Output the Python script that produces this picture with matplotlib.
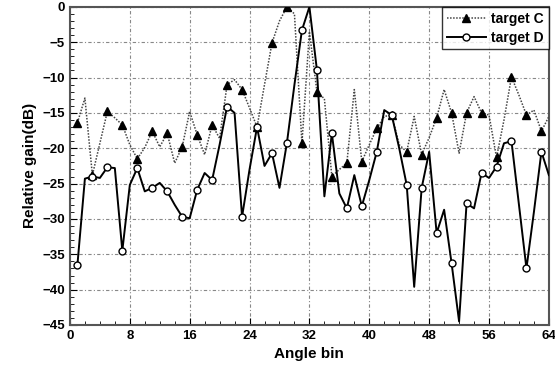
import numpy as np
import matplotlib
matplotlib.use("Agg")
import matplotlib.pyplot as plt
from matplotlib.ticker import MultipleLocator

plt.rcParams['font.family'] = ['Liberation Sans', 'DejaVu Sans']
plt.rcParams['font.weight'] = 'bold'

# angle bins 1..64
angle_bin = list(range(1, 65))

target_c = [-16.4, -12.9, -23.8, -19.3, -14.8, -15.7, -16.7, -19.5, -21.5, -19.9,
            -17.6, -19.8, -17.9, -22.1, -19.8, -14.8, -18.1, -20.9, -16.7, -18.6,
            -11.0, -10.3, -11.7, -14.3, -17.0, -11.0, -5.1, -2.0, 0.0, -1.0,
            -19.3, -3.5, -12.0, -13.0, -24.0, -23.0, -22.1, -11.7, -21.9, -19.5,
            -17.2, -15.5, -15.3, -19.5, -20.5, -15.5, -20.9, -18.5, -15.7, -11.7,
            -15.0, -20.7, -15.0, -12.7, -15.0, -15.3, -21.3, -16.0, -9.9, -12.5,
            -15.3, -14.6, -17.6, -15.5]

target_d = [-36.5, -24.3, -24.0, -24.2, -22.7, -22.8, -34.5, -25.2, -22.8, -26.1,
            -25.6, -24.9, -26.1, -28.0, -29.7, -29.9, -25.9, -23.5, -24.5, -19.5,
            -14.1, -15.0, -29.7, -23.0, -17.0, -22.5, -20.7, -25.6, -19.2, -11.0,
            -3.3, 0.0, -8.9, -26.8, -17.9, -26.4, -28.5, -23.8, -28.2, -24.5,
            -20.5, -14.6, -15.3, -20.0, -25.2, -39.6, -25.6, -20.5, -32.0, -28.7,
            -36.3, -44.5, -27.8, -28.5, -23.5, -24.2, -22.6, -19.3, -19.0, -28.0,
            -37.0, -29.0, -20.5, -23.8]

fig = plt.figure(figsize=(5.55, 3.81), dpi=100)
ax = fig.add_axes([0.126, 0.147, 0.863, 0.835])

ax.plot(angle_bin, target_c, color='#444444', ls=(0, (1, 1)), lw=1.1,
        marker='^', markevery=2, ms=5.5, mfc='black', mec='black',
        label='target C', zorder=3)
ax.plot(angle_bin, target_d, color='black', ls='-', lw=1.4,
        marker='o', markevery=2, ms=5, mfc='white', mec='black', mew=1.0,
        label='target D', zorder=4)

ax.set_xlim(0, 64)
ax.set_ylim(-45, 0)
ax.xaxis.set_major_locator(MultipleLocator(8))
ax.xaxis.set_minor_locator(MultipleLocator(2))
ax.yaxis.set_major_locator(MultipleLocator(5))
ax.yaxis.set_minor_locator(MultipleLocator(1))
ax.tick_params(which='both', direction='in', labelsize=9.5)
ax.tick_params(which='major', length=5)
ax.tick_params(which='minor', length=3)

ax.grid(True, which='major', color='#888888', ls=(0, (3, 2, 1, 2)), lw=0.8)
for s in ax.spines.values():
    s.set_color('#555555')
    s.set_linewidth(1.5)

ax.set_xlabel('Angle bin', fontsize=11, fontweight='bold')
ax.set_ylabel('Relative gain(dB)', fontsize=11, fontweight='bold')

leg = ax.legend(loc='upper right', fontsize=10, frameon=True, fancybox=False,
                borderpad=0.35, handlelength=2.8, handletextpad=0.4,
                borderaxespad=0.0, labelspacing=0.35)
leg.get_frame().set_edgecolor('black')
leg.get_frame().set_linewidth(1.0)

fig.savefig('out.png', dpi=100)
